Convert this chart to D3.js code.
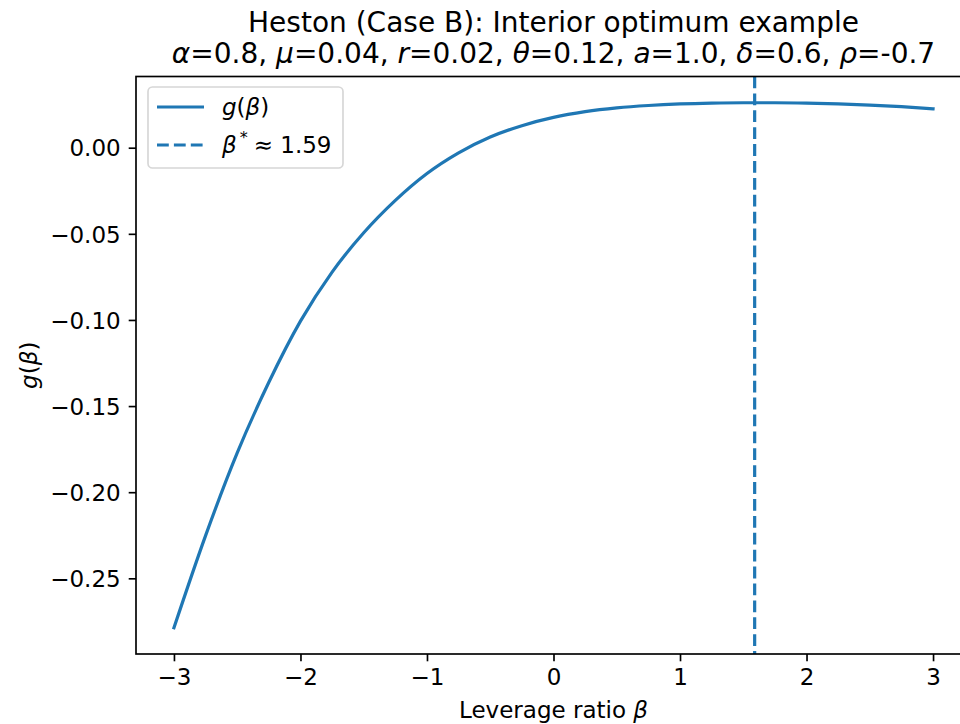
<!doctype html>
<html>
<head>
<meta charset="UTF-8">
<title>Heston (Case B)</title>
<script src="https://cdn.jsdelivr.net/npm/d3@7"></script>
<style>
  body { margin: 0; background: white; }
  svg { display: block; font-family: "DejaVu Sans", sans-serif; }
</style>
</head>
<body>
<script>
// curve
var betaVals = [-3, -2.75, -2.5, -2.25, -2, -1.75, -1.5, -1.25, -1, -0.75, -0.5, -0.25,
                0, 0.25, 0.5, 0.75, 1, 1.25, 1.5, 1.75, 2, 2.25, 2.5, 2.75, 3];
var gVals = [-0.2787, -0.2252, -0.1772, -0.1362, -0.1007, -0.0722, -0.0494, -0.0306, -0.0150, -0.0030, 0.0062, 0.0128,
             0.0176, 0.0209, 0.0231, 0.0245, 0.0254, 0.0259, 0.0261, 0.0261, 0.0259, 0.0254, 0.0247, 0.0238, 0.0226];
var betaStar = 1.59;
var xTicks = [-3, -2, -1, 0, 1, 2, 3];
var yTicks = [0, -0.05, -0.1, -0.15, -0.2, -0.25];

var W = 960, H = 724;
var ml = 136, mr = 971, mt = 76.5, mb = 654;
var blue = "#1f77b4";
var fs = 23, tfs = 28;

var svg = d3.select("body").append("svg")
  .attr("width", W).attr("height", H);

var pts = betaVals.map(function(b, i) { return [b, gVals[i]]; });

// 5% margins like matplotlib
var xe = d3.extent(betaVals), ye = d3.extent(gVals);
var xp = (xe[1] - xe[0]) * 0.05, yp = (ye[1] - ye[0]) * 0.05;
var x = d3.scaleLinear().domain([xe[0] - xp, xe[1] + xp]).range([ml, mr]);
var y = d3.scaleLinear().domain([ye[0] - yp, ye[1] + yp]).range([mb, mt]);

var minus = function(s) { return s.replace("-", "\u2212"); };

// curve
var line = d3.line()
  .x(function(d) { return x(d[0]); })
  .y(function(d) { return y(d[1]); })
  .curve(d3.curveMonotoneX);

svg.append("path")
  .datum(pts)
  .attr("d", line)
  .attr("fill", "none")
  .attr("stroke", blue)
  .attr("stroke-width", 3.2)
  .attr("stroke-linecap", "square");

// optimum marker
svg.append("line")
  .attr("x1", x(betaStar)).attr("x2", x(betaStar))
  .attr("y1", mt).attr("y2", mb)
  .attr("stroke", blue)
  .attr("stroke-width", 3.2)
  .attr("stroke-dasharray", "11.8,5.1");

// axes
var xAxis = d3.axisBottom(x).tickValues(xTicks).tickSize(7.3).tickPadding(7)
  .tickFormat(function(d) { return minus(d3.format("d")(d)); });
var yAxis = d3.axisLeft(y).tickValues(yTicks).tickSize(7.3).tickPadding(8)
  .tickFormat(function(d) { return minus(d3.format(".2f")(d)); });

var gx = svg.append("g").attr("transform", "translate(0," + mb + ")").call(xAxis);
var gy = svg.append("g").attr("transform", "translate(" + ml + ",0)").call(yAxis);
[gx, gy].forEach(function(g) {
  g.select(".domain").remove();
  g.selectAll(".tick line").attr("stroke", "black").attr("stroke-width", 1.67);
  g.selectAll(".tick text")
    .attr("font-family", "DejaVu Sans")
    .attr("font-size", fs)
    .attr("fill", "black");
});
gx.selectAll(".tick text").attr("dy", "0.72em");
gy.selectAll(".tick text").attr("dy", "0.36em");

// spines
svg.append("rect")
  .attr("x", ml).attr("y", mt)
  .attr("width", mr - ml).attr("height", mb - mt)
  .attr("fill", "none").attr("stroke", "black").attr("stroke-width", 1.67);

// titles
svg.append("text")
  .attr("text-anchor", "middle")
  .attr("font-size", tfs)
  .attr("x", (ml + mr) / 2).attr("y", 32)
  .text("Heston (Case B): Interior optimum example");

var sub = svg.append("text")
  .attr("text-anchor", "middle")
  .attr("font-size", tfs)
  .attr("x", (ml + mr) / 2).attr("y", 63);
var params = [["\u03b1", "=0.8, "], ["\u03bc", "=0.04, "], ["r", "=0.02, "], ["\u03b8", "=0.12, "],
              ["a", "=1.0, "], ["\u03b4", "=0.6, "], ["\u03c1", "=-0.7"]];
params.forEach(function(p) {
  sub.append("tspan").attr("font-style", "italic").text(p[0]);
  sub.append("tspan").text(p[1]);
});

// axis labels
var xl = svg.append("text")
  .attr("x", (ml + mr) / 2).attr("y", 718)
  .attr("text-anchor", "middle").attr("font-size", fs);
xl.append("tspan").text("Leverage ratio ");
xl.append("tspan").attr("font-style", "italic").text("\u03b2");

var yl = svg.append("text")
  .attr("transform", "translate(37," + ((mt + mb) / 2) + ") rotate(-90)")
  .attr("text-anchor", "middle").attr("font-size", fs);
yl.append("tspan").attr("font-style", "italic").text("g");
yl.append("tspan").text("(");
yl.append("tspan").attr("font-style", "italic").text("\u03b2");
yl.append("tspan").text(")");

// legend
var lg = svg.append("g");
lg.append("rect")
  .attr("x", 148).attr("y", 87).attr("width", 195).attr("height", 81)
  .attr("rx", 4.5).attr("ry", 4.5)
  .attr("fill", "white").attr("fill-opacity", 0.8)
  .attr("stroke", "#cccccc").attr("stroke-opacity", 0.8).attr("stroke-width", 1.67);

var rows = [{y: 107, dash: null}, {y: 145, dash: "11.8,5.1"}];
rows.forEach(function(r) {
  lg.append("line")
    .attr("x1", 157).attr("x2", 204).attr("y1", r.y).attr("y2", r.y)
    .attr("stroke", blue).attr("stroke-width", 3.2)
    .attr("stroke-dasharray", r.dash);
});

var t1 = lg.append("text").attr("x", 222).attr("y", rows[0].y + 8).attr("font-size", fs);
t1.append("tspan").attr("font-style", "italic").text("g");
t1.append("tspan").text("(");
t1.append("tspan").attr("font-style", "italic").text("\u03b2");
t1.append("tspan").text(")");

var t2 = lg.append("text").attr("x", 222).attr("y", rows[1].y + 8).attr("font-size", fs);
t2.append("tspan").attr("font-style", "italic").text("\u03b2");
t2.append("tspan").attr("font-size", 16).attr("dy", -10).attr("dx", 3).text("*");
t2.append("tspan").attr("dy", 10).attr("dx", 6).text("\u2248 1.59");
</script>
</body>
</html>
